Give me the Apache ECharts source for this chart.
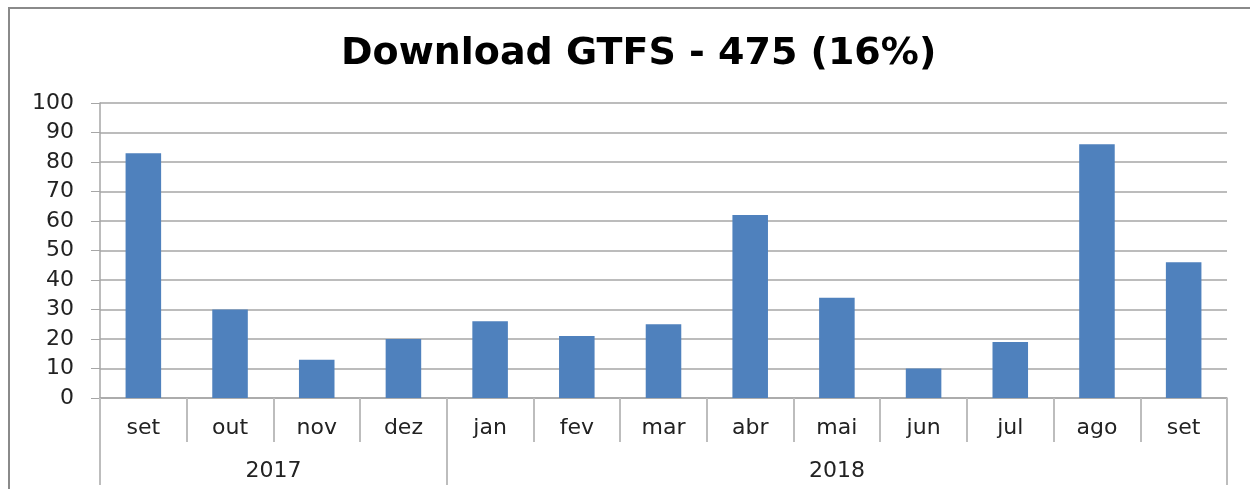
<!DOCTYPE html>
<html>
<head>
<meta charset="utf-8">
<script src="https://cdn.jsdelivr.net/npm/echarts@6/dist/echarts.min.js"></script>
<style>
  html, body { margin: 0; padding: 0; background: #fff; }
  #chart { width: 1250px; height: 489px; }
</style>
</head>
<body>
<div id="chart"></div>
<script>
'use strict';
const months = ['set', 'out', 'nov', 'dez', 'jan', 'fev', 'mar', 'abr', 'mai', 'jun', 'jul', 'ago', 'set'];
const downloads = [83, 30, 13, 20, 26, 21, 25, 62, 34, 10, 19, 86, 46];
const years = ['2017', '2018'];
const yearSpans = [4, 9];
const yTicks = [0, 10, 20, 30, 40, 50, 60, 70, 80, 90, 100];

function init() {
    const el = document.getElementById('chart');
    const chart = echarts.init(el);

    // year group boundaries and centres on a 0..13 value scale
    const bounds = [0];
    const centers = [];
    yearSpans.forEach((s, i) => {
        centers.push(bounds[i] + s / 2);
        bounds.push(bounds[i] + s);
    });

    const font = 'DejaVu Sans, sans-serif';
    const option = {
        animation: false,
        title: {
            text: 'Download GTFS - 475 (16%)',
            left: 336,
            top: 30,
            textStyle: { fontFamily: font, fontSize: 38, fontWeight: 'bold', color: '#000' },
        },
        graphic: [{
            type: 'rect',
            shape: { x: 9, y: 8, width: 1270, height: 520 },
            style: { fill: 'none', stroke: '#8a8a8a', lineWidth: 2 },
            silent: true,
        }],
        grid: { left: 100, right: 23, top: 103, bottom: 91 },
        xAxis: [
            {
                type: 'category',
                data: months,
                axisLine: { show: true, lineStyle: { color: '#a6a6a6', width: 1.5 } },
                axisTick: { show: true, interval: 0, length: 44, lineStyle: { color: '#bdbdbd', width: 2 } },
                axisLabel: { interval: 0, margin: 19, fontFamily: font, fontSize: 22, color: '#222' },
            },
            {
                type: 'value',
                position: 'bottom',
                offset: 44,
                min: 0,
                max: months.length,
                axisLine: { show: false },
                splitLine: { show: false },
                axisTick: { show: true, length: 43, customValues: bounds, lineStyle: { color: '#bdbdbd', width: 2 } },
                axisLabel: {
                    customValues: centers,
                    margin: 18,
                    fontFamily: font,
                    fontSize: 22,
                    color: '#222',
                    formatter: (v) => years[centers.indexOf(v)] || '',
                },
            },
        ],
        yAxis: {
            type: 'value',
            min: yTicks[0],
            max: yTicks[yTicks.length - 1],
            interval: 10,
            axisLine: { show: true, lineStyle: { color: '#a6a6a6', width: 1.5 } },
            axisTick: { show: true, length: 9, lineStyle: { color: '#a6a6a6' } },
            splitLine: { show: true, lineStyle: { color: '#a6a6a6', width: 1.5 } },
            axisLabel: { margin: 26, fontFamily: font, fontSize: 22, color: '#222' },
        },
        series: [{
            type: 'bar',
            data: downloads,
            barWidth: '41%',
            itemStyle: { color: '#4f81bd' },
        }],
    };
    chart.setOption(option);
}

(function () {
    init();
})();
</script>
</body>
</html>
